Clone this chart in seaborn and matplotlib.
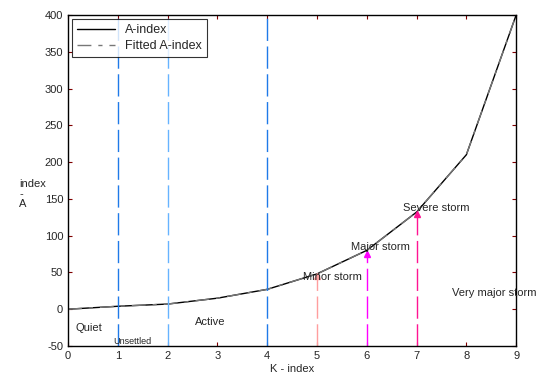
import matplotlib
matplotlib.use("Agg")
import matplotlib.pyplot as plt
import seaborn as sns
import pandas as pd

k_index = [0, 1, 2, 3, 4, 5, 6, 7, 8, 9]
a_index = [0, 4, 7, 15, 27, 48, 80, 132, 210, 400]
fitted_a = [0, 4, 7, 15, 27, 48, 80, 132, 210, 400]

boundary_k = [1, 2, 4]
boundary_colors = ["#1f7ae8", "#66b3ff", "#1f7ae8"]
storm_k = [5, 6, 7]
storm_a = [45, 75, 130]
storm_colors = ["#ff9e9e", "#ff00ff", "#ff1493"]

labels = ["Quiet", "Unsettled", "Active", "Minor storm", "Major storm", "Severe storm", "Very major storm"]
label_x = [0.15, 0.9, 2.55, 4.72, 5.68, 6.73, 7.72]
label_y = [-26, -44, -17, 44, 84, 138, 22]

sns.set_style("white")
plt.rcParams["font.family"] = ["Liberation Sans", "DejaVu Sans"]
plt.rcParams["axes.unicode_minus"] = False

fig = plt.figure(figsize=(5.55, 3.8), dpi=100)
ax = fig.add_axes([0.1225, 0.0895, 0.8075, 0.871])

df = pd.DataFrame({"K": k_index, "A": a_index, "F": fitted_a})
sns.lineplot(data=df, x="K", y="A", ax=ax, color="black", lw=1.0, label="A-index")
sns.lineplot(data=df, x="K", y="F", ax=ax, color="#777777", lw=1.0, dashes=False,
             linestyle=(0, (10, 5, 3, 5)), label="Fitted A-index")

for k, c in zip(boundary_k, boundary_colors):
    ax.plot([k, k], [-50, 400], color=c, lw=1.0, linestyle=(0, (16, 4)))
for k, a, c in zip(storm_k, storm_a, storm_colors):
    ax.plot([k, k], [-50, a], color=c, lw=1.0, linestyle=(0, (16, 4)))
    ax.plot([k], [a], marker="^", color=c, markersize=5, linestyle="none")

for t, x, y in zip(labels, label_x, label_y):
    fs = 6.5 if t == "Unsettled" else 8
    ax.text(x, y, t, fontsize=fs, va="center", ha="left")

ax.set_xlim(0, 9)
ax.set_ylim(-50, 400)
ax.set_xticks(range(0, 10))
ax.set_yticks(range(-50, 401, 50))
ax.tick_params(axis="both", direction="in", length=3, labelsize=8, color="#800000",
               top=True, right=True, bottom=True, left=True)
ax.set_xlabel("K - index", fontsize=8, labelpad=2)
ax.set_ylabel("")
fig.text(0.035, 0.49, "index\n-\nA", fontsize=8, ha="left", va="center", linespacing=1.0)
for s in ax.spines.values():
    s.set_color("black")
    s.set_linewidth(1.0)

leg = ax.legend(loc="upper left", fontsize=9, frameon=True, fancybox=False,
                edgecolor="black", borderaxespad=0.35, handlelength=3.0,
                borderpad=0.4, labelspacing=0.3)
leg.get_frame().set_linewidth(0.8)

fig.savefig("out.png", dpi=100)
